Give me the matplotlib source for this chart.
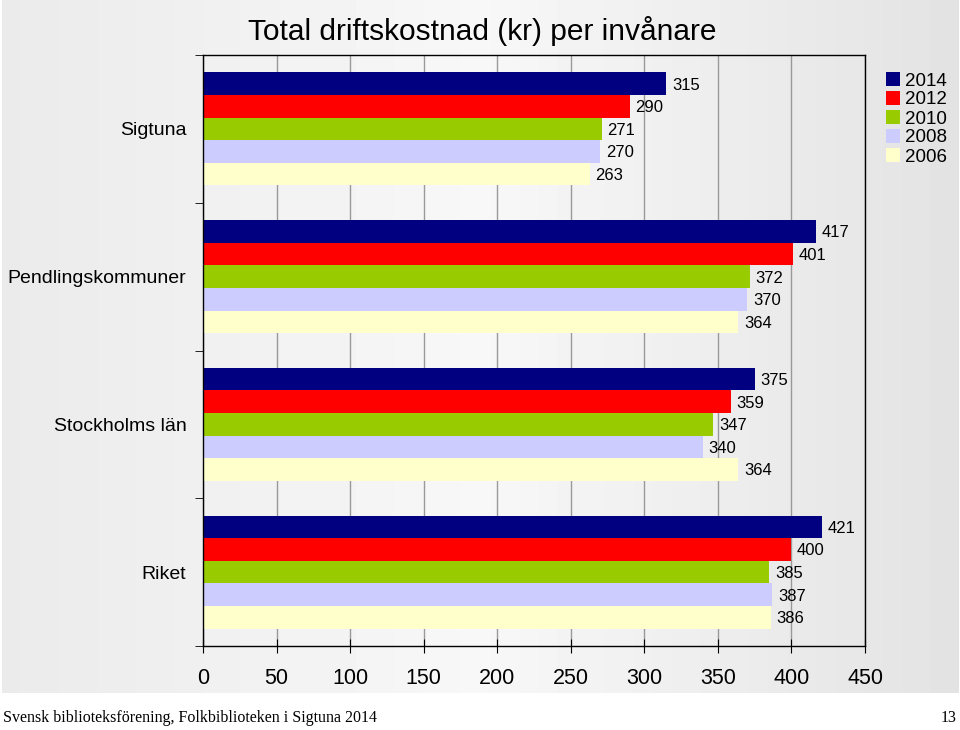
import numpy as np
import matplotlib
matplotlib.use("Agg")
import matplotlib.pyplot as plt

plt.rcParams['font.family'] = ['Liberation Sans', 'DejaVu Sans']

groups = ['Sigtuna', 'Pendlingskommuner', 'Stockholms län', 'Riket']
years = ['2014', '2012', '2010', '2008', '2006']
values = {
    '2014': [315, 417, 375, 421],
    '2012': [290, 401, 359, 400],
    '2010': [271, 372, 347, 385],
    '2008': [270, 370, 340, 387],
    '2006': [263, 364, 364, 386],
}
colors = ['#000080', '#ff0000', '#99cc00', '#ccccff', '#ffffcc']
xticks = [0, 50, 100, 150, 200, 250, 300, 350, 400, 450]

fig = plt.figure(figsize=(9.6, 7.3), dpi=100)
fig.patch.set_facecolor('white')

# grey gradient panel behind the chart
bg = fig.add_axes([0.002, 1 - 693 / 730, 0.996, 693 / 730], zorder=0)
grad = np.concatenate([np.linspace(0.92, 0.97, 50), np.linspace(0.97, 0.89, 50)])
bg.imshow(np.tile(grad, (2, 1)), cmap='gray', vmin=0, vmax=1, aspect='auto',
          extent=[0, 1, 0, 1])
bg.axis('off')

ax = fig.add_axes([203 / 960, 1 - 646 / 730, 662 / 960, 591 / 730], zorder=1)
ax.set_facecolor('none')

h = 0.153
centers = np.arange(len(groups)) + 0.5
for k, yr in enumerate(years):
    ypos = centers + (k - 2) * h
    ax.barh(ypos, values[yr], height=h, color=colors[k], label=yr, zorder=2)
    for y, v in zip(ypos, values[yr]):
        ax.annotate(str(v), (v, y), xytext=(4, -1), textcoords='offset points',
                    va='center', ha='left', fontsize=12)

ax.set_xlim(0, 450)
ax.set_ylim(4, 0)
ax.set_xticks(xticks)
ax.tick_params(axis='x', direction='inout', length=10, labelsize=15.5, pad=11)
ax.set_yticks(centers)
ax.set_yticklabels(groups, fontsize=14)
ax.set_yticks(np.arange(0, 5), minor=True)
ax.tick_params(axis='y', which='major', length=0, pad=12)
ax.tick_params(axis='y', which='minor', direction='out', length=6)
ax.xaxis.grid(True, color='#999999', linewidth=1)
ax.set_axisbelow(True)
for s in ax.spines.values():
    s.set_linewidth(1)
    s.set_zorder(3)

fig.text(482 / 960, 1 - 31 / 730, 'Total driftskostnad (kr) per invånare',
         ha='center', va='center', fontsize=21.5)

handles, labels = ax.get_legend_handles_labels()
fig.legend(handles, labels, loc='upper left', bbox_to_anchor=(877 / 960, 1 - 63 / 730),
           frameon=False, fontsize=13.5, handlelength=0.7, handleheight=0.7,
           handletextpad=0.3, labelspacing=0.1, borderpad=0)

fig.text(3 / 960, 1 - 718 / 730, 'Svensk biblioteksförening, Folkbiblioteken i Sigtuna 2014',
         ha='left', va='center', fontsize=11.5, family='Liberation Serif')
fig.text(957 / 960, 1 - 718 / 730, '13', ha='right', va='center', fontsize=11.5,
         family='Liberation Serif')

fig.savefig('out.png', dpi=100)
